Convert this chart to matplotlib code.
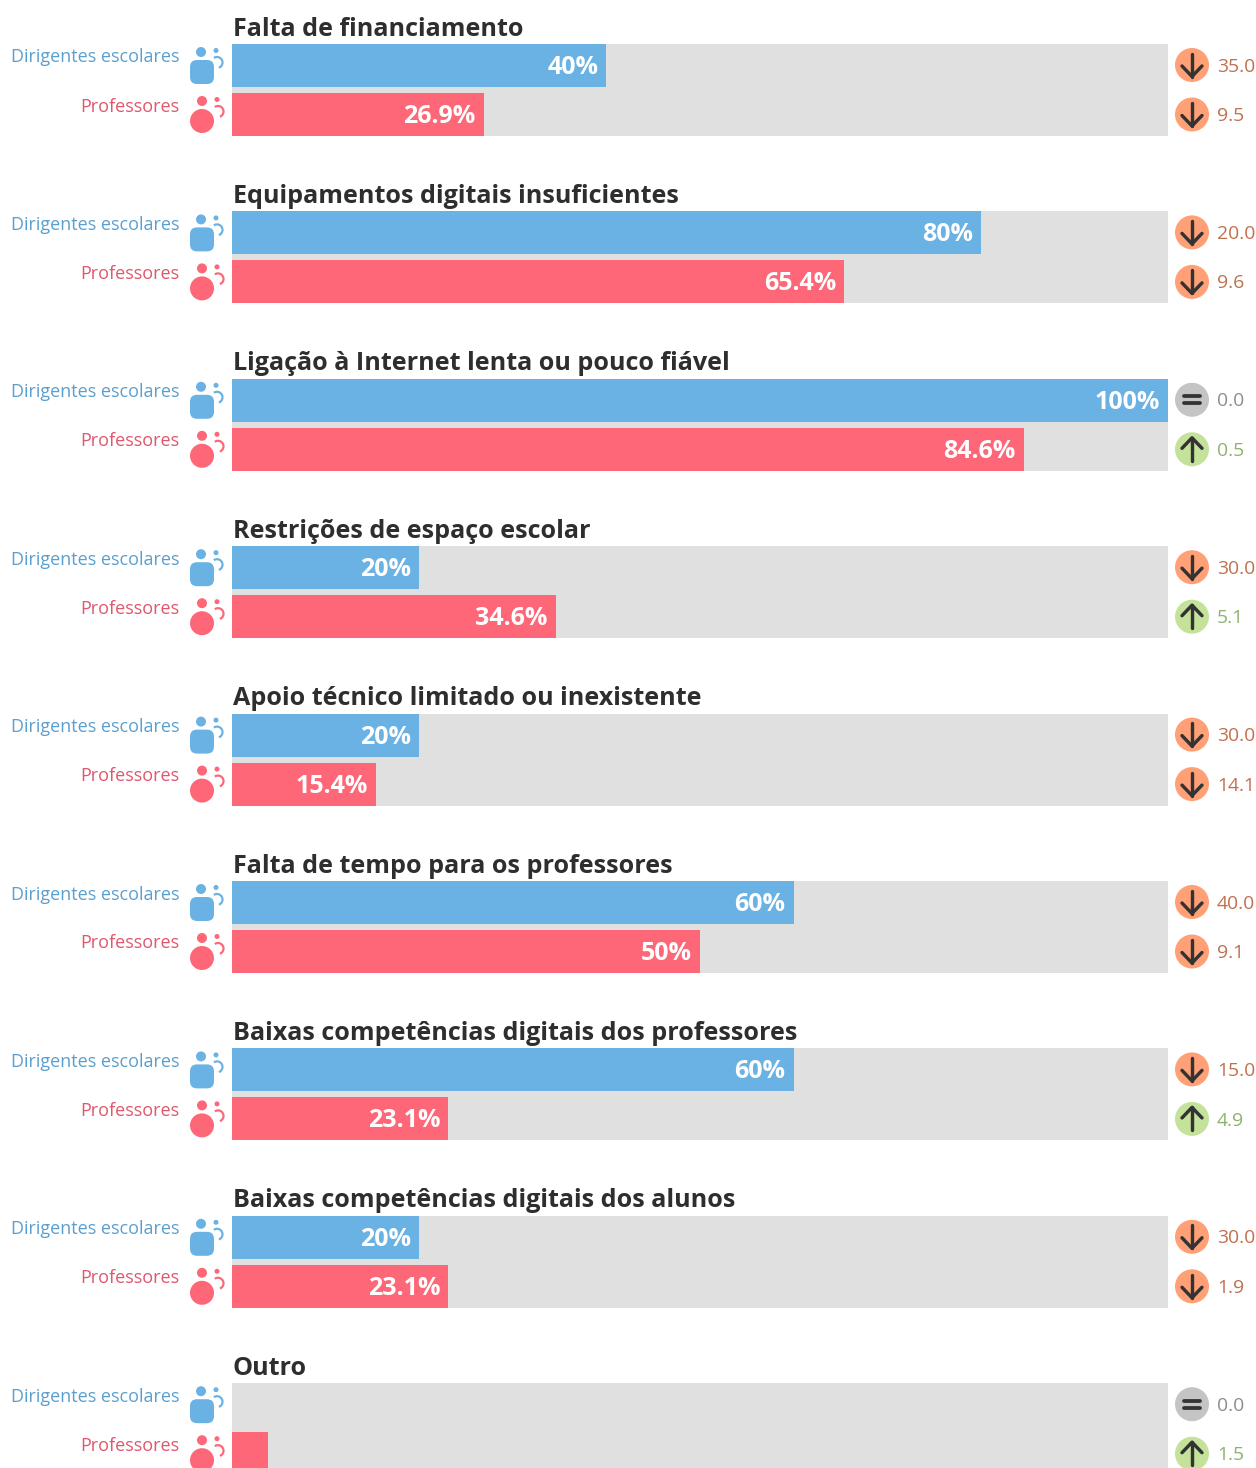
import matplotlib
matplotlib.use("Agg")
import matplotlib.pyplot as plt
from matplotlib.patches import Arc, Circle, FancyBboxPatch

plt.rcParams["font.family"] = ["Open Sans", "DejaVu Sans"]

W, H = 1256, 1468
PX = 72 / 100  # font points per pixel at dpi 100

titles = [
    "Falta de financiamento",
    "Equipamentos digitais insuficientes",
    "Ligação à Internet lenta ou pouco fiável",
    "Restrições de espaço escolar",
    "Apoio técnico limitado ou inexistente",
    "Falta de tempo para os professores",
    "Baixas competências digitais dos professores",
    "Baixas competências digitais dos alunos",
    "Outro",
]
groups = ["Dirigentes escolares", "Professores"]
leaders = [40, 80, 100, 20, 20, 60, 60, 20, 0]
teachers = [26.9, 65.4, 84.6, 34.6, 15.4, 50, 23.1, 23.1, 3.8]
leaders_change = [-35.0, -20.0, 0.0, -30.0, -30.0, -40.0, -15.0, -30.0, 0.0]
teachers_change = [-9.5, -9.6, 0.5, 5.1, -14.1, -9.1, 4.9, -1.9, 1.5]

BLUE = "#6BB2E4"
RED = "#FD6778"
BLUE_TEXT = "#5A9FCF"
RED_TEXT = "#E0566C"
GREY_BG = "#E0E0E0"
DARK = "#2E2E2E"
BADGE = {-1: "#FFA077", 0: "#C4C4C4", 1: "#C5E29B"}
CHANGE_TEXT = {-1: "#C0714F", 0: "#8E8E8E", 1: "#8FB26F"}

TOPS = [44 + 167.4 * i for i in range(len(titles))]
BAR_H, ROW_STEP = 43, 49
LEFT, RIGHT = 232, 1168


def sign(v):
    return (v > 0) - (v < 0)


def draw_badge(ov, cx, cy, change):
    s = sign(change)
    ov.add_patch(Circle((cx, cy), 17, fc=BADGE[s], ec="none"))
    line = dict(color="#333333", lw=3.4 * PX, solid_capstyle="round", solid_joinstyle="round")
    if s == 0:
        ov.plot([cx - 8, cx + 8], [cy - 3.6, cy - 3.6], **{**line, "lw": 3.8 * PX})
        ov.plot([cx - 8, cx + 8], [cy + 3.6, cy + 3.6], **{**line, "lw": 3.8 * PX})
    else:
        tip = cy + 11.5 * -s
        ov.plot([cx, cx], [cy - 11.5, cy + 11.5], **line)
        ov.plot([cx - 10, cx, cx + 10], [tip + 10.5 * s, tip, tip + 10.5 * s], **line)
    ov.text(1217, cy + 1.6, f"{abs(change):.1f}", color=CHANGE_TEXT[s], fontsize=19.4 * PX,
            ha="left", va="center")


def draw_leader_icon(ov, top):
    ov.add_patch(Circle((201, top + 8), 5, fc=BLUE, ec="none"))
    ov.add_patch(Circle((216, top + 6.5), 2.5, fc=BLUE, ec="none"))
    ov.add_patch(FancyBboxPatch((196, top + 22), 12, 12, boxstyle="round,pad=6,rounding_size=7",
                                fc=BLUE, ec="none"))
    ov.add_patch(Arc((217, top + 18.5), 11, 11, theta1=-125, theta2=70, color=BLUE, lw=2.2 * PX))


def draw_teacher_icon(ov, top):
    ov.add_patch(Circle((202, top + 57), 5, fc=RED, ec="none"))
    ov.add_patch(Circle((217, top + 55.5), 2.5, fc=RED, ec="none"))
    ov.add_patch(Circle((202, top + 77), 12, fc=RED, ec="none"))
    ov.add_patch(Arc((218, top + 67.5), 11, 11, theta1=-125, theta2=70, color=RED, lw=2.2 * PX))


fig = plt.figure(figsize=(W / 100, H / 100), dpi=100, facecolor="white")

for i, title in enumerate(titles):
    top = TOPS[i]
    height = BAR_H + ROW_STEP
    ax = fig.add_axes([LEFT / W, 1 - (top + height) / H, (RIGHT - LEFT) / W, height / H])
    ax.set_facecolor(GREY_BG)
    values = [leaders[i], teachers[i]]
    ax.barh([0, 1], values, height=BAR_H / ROW_STEP, color=[BLUE, RED])
    ax.set_xlim(0, 100)
    ax.set_ylim(1 + BAR_H / ROW_STEP / 2, -BAR_H / ROW_STEP / 2)
    ax.set_xticks([])
    ax.set_yticks([])
    for spine in ax.spines.values():
        spine.set_visible(False)
    for row, val in enumerate(values):
        if val >= 5:
            ax.annotate(f"{val:g}%", xy=(val, row), xytext=(-8 * PX, -2 * PX), textcoords="offset points",
                        color="white", fontsize=25 * PX, fontweight="bold", ha="right", va="center")

ov = fig.add_axes([0, 0, 1, 1], facecolor="none")
ov.set_xlim(0, W)
ov.set_ylim(H, 0)
ov.axis("off")

for i, title in enumerate(titles):
    top = TOPS[i]
    ov.text(233, top - 8.4, title, color=DARK, fontsize=25.1 * PX, fontweight="bold", ha="left", va="baseline")
    ov.text(179.5, top + 13.5, groups[0], color=BLUE_TEXT, fontsize=18 * PX, ha="right", va="center")
    ov.text(179.5, top + 62.5, groups[1], color=RED_TEXT, fontsize=18 * PX, ha="right", va="center")
    draw_leader_icon(ov, top)
    draw_teacher_icon(ov, top)
    draw_badge(ov, 1192, top + 21, leaders_change[i])
    draw_badge(ov, 1192, top + 70.5, teachers_change[i])

fig.savefig("out.png", dpi=100)
